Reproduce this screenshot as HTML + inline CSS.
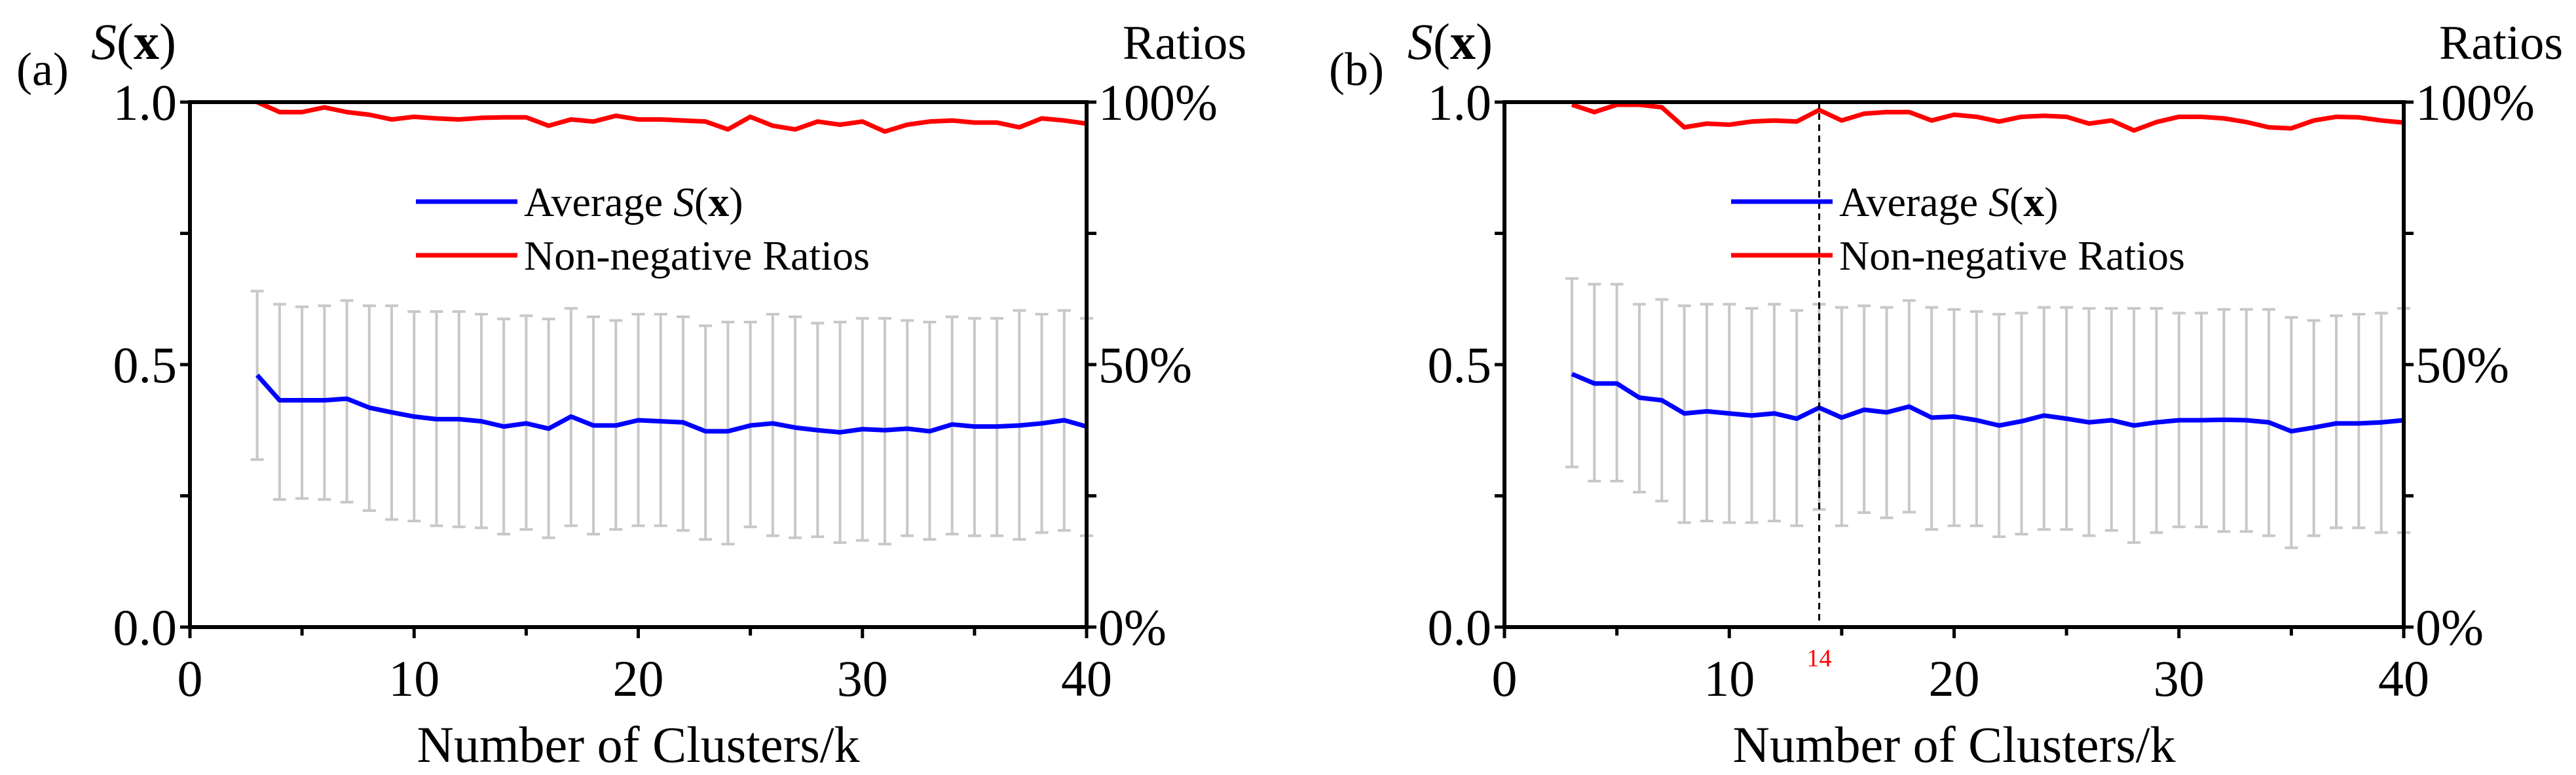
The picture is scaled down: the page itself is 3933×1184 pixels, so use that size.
<!DOCTYPE html>
<html><head><meta charset="utf-8"><style>
html,body{margin:0;padding:0;background:#fff;}
svg{display:block;}
svg text{font-family:"Liberation Serif","Times New Roman","DejaVu Serif",serif;}
</style></head><body>
<svg id="fig" width="3933" height="1184" viewBox="0 0 3933 1184" xmlns="http://www.w3.org/2000/svg" font-family="Liberation Serif, serif"></svg>
<script>
const kValues=[3,4,5,6,7,8,9,10,11,12,13,14,15,16,17,18,19,20,21,22,23,24,25,26,27,28,29,30,31,32,33,34,35,36,37,38,39,40];
const xTicks=[0,10,20,30,40];
const yTicksLeft=["0.0","0.5","1.0"];
const yTicksRight=["0%","50%","100%"];
const avgA=[0.48,0.432,0.432,0.432,0.435,0.418,0.409,0.401,0.396,0.396,0.392,0.382,0.388,0.378,0.401,0.384,0.384,0.394,0.392,0.39,0.373,0.373,0.384,0.388,0.38,0.375,0.371,0.377,0.375,0.378,0.373,0.386,0.382,0.382,0.384,0.388,0.394,0.382];
const ratioA=[1.0,0.981,0.981,0.99,0.981,0.976,0.967,0.972,0.969,0.967,0.97,0.971,0.971,0.955,0.967,0.963,0.974,0.967,0.967,0.965,0.963,0.948,0.972,0.955,0.948,0.963,0.957,0.963,0.944,0.957,0.963,0.965,0.961,0.961,0.952,0.969,0.965,0.959];
const upperA=[0.640,0.615,0.610,0.612,0.622,0.612,0.612,0.601,0.601,0.601,0.596,0.587,0.593,0.587,0.607,0.591,0.584,0.596,0.596,0.591,0.574,0.581,0.581,0.596,0.591,0.579,0.581,0.588,0.588,0.584,0.581,0.591,0.588,0.588,0.603,0.596,0.603,0.588];
const lowerA=[0.319,0.243,0.245,0.243,0.238,0.222,0.205,0.202,0.193,0.191,0.189,0.177,0.186,0.170,0.193,0.177,0.186,0.193,0.193,0.184,0.167,0.158,0.191,0.174,0.170,0.172,0.161,0.165,0.158,0.174,0.167,0.177,0.174,0.174,0.167,0.180,0.184,0.174];
const avgB=[0.482,0.464,0.464,0.437,0.432,0.407,0.411,0.407,0.403,0.407,0.397,0.418,0.399,0.414,0.409,0.42,0.399,0.401,0.394,0.384,0.392,0.403,0.397,0.39,0.394,0.384,0.39,0.394,0.394,0.395,0.394,0.39,0.373,0.38,0.388,0.388,0.39,0.394];
const ratioB=[0.995,0.981,0.995,0.995,0.99,0.952,0.959,0.957,0.963,0.965,0.963,0.985,0.965,0.978,0.981,0.981,0.965,0.976,0.972,0.963,0.972,0.974,0.972,0.959,0.965,0.946,0.962,0.972,0.972,0.969,0.962,0.952,0.950,0.965,0.972,0.971,0.965,0.961];
const upperB=[0.664,0.653,0.653,0.615,0.624,0.612,0.615,0.615,0.607,0.615,0.603,0.615,0.609,0.612,0.609,0.622,0.609,0.605,0.601,0.596,0.598,0.609,0.609,0.607,0.607,0.607,0.607,0.598,0.598,0.605,0.605,0.605,0.590,0.584,0.593,0.596,0.598,0.607];
const lowerB=[0.305,0.278,0.278,0.257,0.240,0.199,0.202,0.199,0.199,0.202,0.193,0.224,0.193,0.218,0.208,0.219,0.186,0.193,0.193,0.172,0.177,0.186,0.186,0.174,0.184,0.161,0.180,0.191,0.191,0.182,0.182,0.174,0.151,0.174,0.189,0.189,0.180,0.180];
const markerK=14;

const NS="http://www.w3.org/2000/svg";
const svg=document.getElementById('fig');
const FF='"Liberation Serif", serif';
function mk(tag,attrs,parent){const e=document.createElementNS(NS,tag);for(const k in attrs)e.setAttribute(k,attrs[k]);if(tag==='text')e.style.fontFamily=FF;(parent||svg).appendChild(e);return e;}

function panel(id,x0,x1,letter,letterX,sxX,ratiosX,avg,ratio,up,lo,marker){
  const yT=156,yB=958;
  const g=mk('g',{});
  
  
  const X=v=>x0+(x1-x0)*v/40;
  const Y=v=>yB-(yB-yT)*v;
  const eg=mk('g',{stroke:'#c8c8c8','stroke-width':4,fill:'none'},g);
  
  
  kValues.forEach((k,i)=>{
    const p=mk('path',{d:`M${X(k)},${Y(up[i])}V${Y(lo[i])}M${X(k)-10},${Y(up[i])}h20M${X(k)-10},${Y(lo[i])}h20`},eg);
    
    
  });
  const bl=mk('polyline',{points:kValues.map((k,i)=>X(k)+','+Y(avg[i])).join(' '),fill:'none',stroke:'#0000ff','stroke-width':7,'stroke-linejoin':'round'},g);
  
  
  const rl=mk('polyline',{points:kValues.map((k,i)=>X(k)+','+Y(ratio[i])).join(' '),fill:'none',stroke:'#ff0000','stroke-width':7,'stroke-linejoin':'round'},g);
  
  
  if(marker){
    const dl=mk('line',{x1:X(marker),x2:X(marker),y1:yT,y2:yB,stroke:'#000','stroke-width':3,'stroke-dasharray':'10,7'},g);
    
    
    const mt=mk('text',{x:X(marker),y:1018,'font-size':38,fill:'#ff0000','text-anchor':'middle'},g);
    mt.textContent=String(marker);
    
    
  }
  const ax=mk('g',{stroke:'#000','stroke-width':6,fill:'none'},g);
  
  
  mk('rect',{x:x0,y:yT,width:x1-x0,height:yB-yT},ax);
  let d='';
  for(let v=0;v<=40;v+=5){d+=`M${X(v)},${yB}v${v%10==0?17:13}`;}
  [0,0.25,0.5,0.75,1].forEach(v=>{d+=`M${x0},${Y(v)}h-15M${x1},${Y(v)}h15`;});
  mk('path',{d:d,'stroke-width':5},ax);
  xTicks.forEach(v=>{const t=mk('text',{x:X(v),y:1063,'font-size':78,'text-anchor':'middle'},g);t.textContent=v;
    });
  yTicksLeft.forEach((s,i)=>{const t=mk('text',{x:x0-20,y:Y(i*0.5)+27,'font-size':78,'text-anchor':'end'},g);t.textContent=s;
    });
  yTicksRight.forEach((s,i)=>{const t=mk('text',{x:x1+18,y:Y(i*0.5)+27,'font-size':78},g);t.textContent=s;
    });
  const xt=mk('text',{x:(x0+x1)/2,y:1164,'font-size':78,'text-anchor':'middle'},g);xt.textContent='Number of Clusters/k';
  
  const pl=mk('text',{x:letterX,y:130,'font-size':72},g);pl.textContent='('+letter+')';
  
  const yl=mk('text',{x:sxX,y:90,'font-size':78},g);
  yl.innerHTML='<tspan font-style="italic">S</tspan>(<tspan font-weight="bold">x</tspan>)';
  
  const yr=mk('text',{x:ratiosX,y:90,'font-size':74},g);yr.textContent='Ratios';
  
  const lg=mk('g',{},g);
  
  const lx=x0+(x1-x0)*0.252;
  mk('line',{x1:lx,x2:lx+155,y1:308,y2:308,stroke:'#0000ff','stroke-width':7},lg);
  const t1=mk('text',{x:lx+165,y:330,'font-size':64},lg);
  t1.innerHTML='Average <tspan font-style="italic">S</tspan>(<tspan font-weight="bold">x</tspan>)';
  
  mk('line',{x1:lx,x2:lx+155,y1:390,y2:390,stroke:'#ff0000','stroke-width':7},lg);
  const t2=mk('text',{x:lx+165,y:412,'font-size':64},lg);t2.textContent='Non-negative Ratios';
  
}
panel('a',290,1659,'a',25,139,1714,avgA,ratioA,upperA,lowerA,null);
panel('b',2297,3670,'b',2029,2149,3724,avgB,ratioB,upperB,lowerB,markerK);
</script>
</body></html>
